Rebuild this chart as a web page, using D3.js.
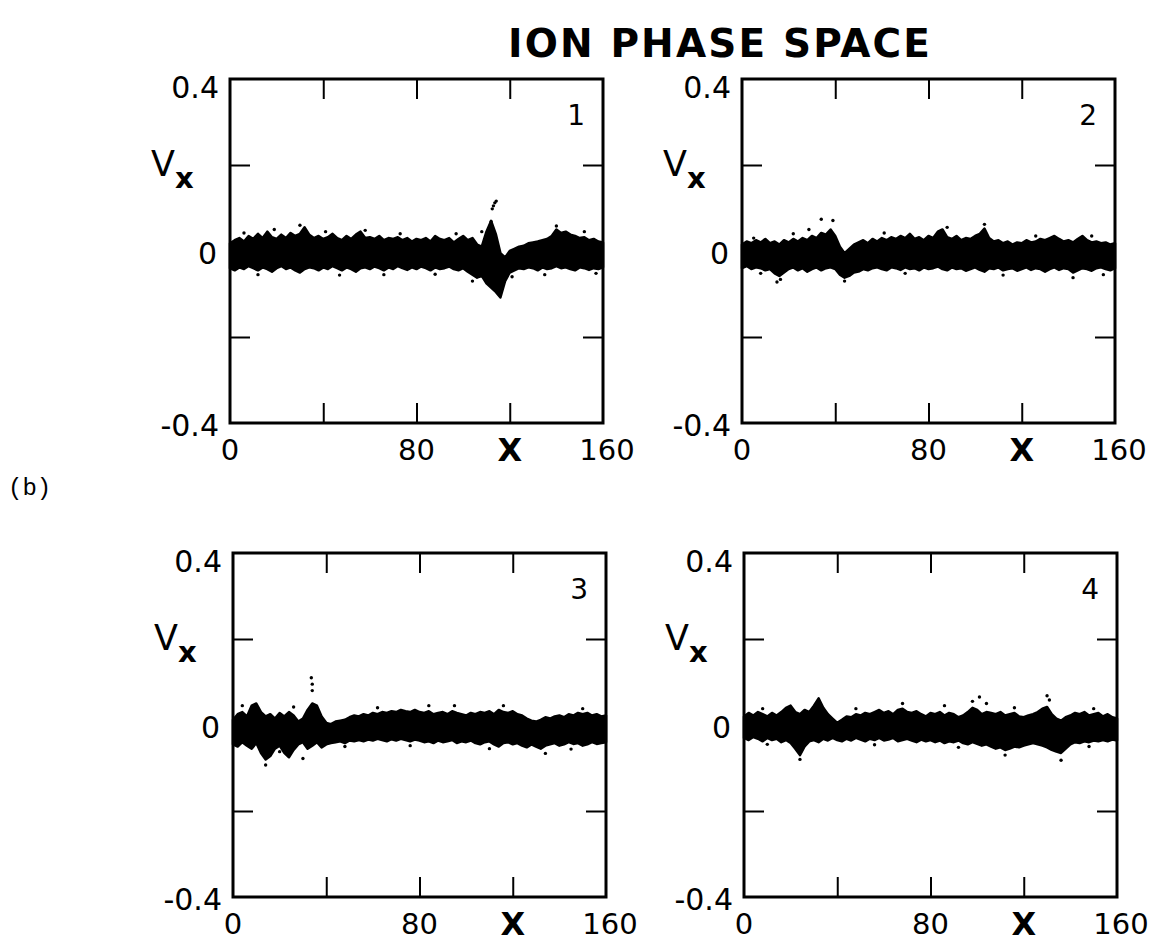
<!DOCTYPE html>
<html>
<head>
<meta charset="utf-8">
<script src="https://cdn.jsdelivr.net/npm/d3@7"></script>
<style>
  body { margin: 0; background: #fff; }
  svg { display: block; }
</style>
</head>
<body>
<script>
// ion phase space, 4 snapshots, band edges (units of 0.001 in Vx)
const xTicks = [0, 40, 80, 120, 160];
const vTicks = [-0.2, 0, 0.2];
const xLabels = [[0, "0"], [80, "80"], [160, "160"]];
const vLabels = [[0.4, "0.4"], [0, "0"], [-0.4, "-0.4"]];
const xGrid = d3.range(0, 161, 2);

const upper1 = [18,25,30,22,35,28,40,30,45,32,28,38,30,42,35,40,55,38,30,35,28,32,40,30,25,35,28,38,45,30,32,28,35,25,30,28,32,25,30,22,28,25,30,22,35,28,25,30,20,28,35,25,30,15,10,45,70,40,-5,-15,0,5,10,12,18,20,22,25,28,35,50,42,45,38,35,30,32,25,28,22,20];
const lower1 = [-40,-45,-38,-42,-35,-40,-45,-38,-42,-48,-40,-35,-42,-38,-45,-50,-42,-38,-40,-45,-38,-42,-35,-40,-45,-38,-42,-48,-40,-38,-42,-36,-40,-45,-38,-42,-35,-40,-44,-38,-42,-36,-40,-45,-38,-42,-40,-36,-42,-45,-40,-48,-55,-62,-58,-75,-85,-95,-108,-70,-50,-45,-40,-42,-38,-40,-45,-38,-42,-40,-35,-40,-38,-42,-45,-38,-40,-44,-40,-42,-38];
const upper2 = [15,22,18,25,20,28,18,22,15,25,20,28,22,30,25,35,30,42,38,50,35,10,-5,5,15,20,25,18,28,22,30,25,32,28,35,30,40,28,32,25,35,30,45,50,32,28,35,25,30,28,35,40,52,30,22,25,18,22,15,20,18,25,20,22,28,25,30,35,28,22,25,20,28,35,25,20,22,18,20,15,18];
const lower2 = [-40,-35,-42,-38,-40,-45,-42,-52,-58,-50,-42,-38,-45,-40,-48,-42,-38,-45,-40,-38,-42,-55,-62,-58,-50,-48,-42,-45,-40,-38,-42,-45,-38,-40,-44,-38,-42,-40,-45,-38,-42,-40,-36,-42,-45,-38,-42,-40,-46,-42,-38,-44,-48,-40,-42,-38,-45,-42,-40,-46,-42,-38,-44,-40,-42,-48,-42,-38,-44,-40,-42,-50,-45,-40,-42,-46,-40,-38,-42,-45,-40];
const upper3 = [12,25,30,20,45,50,30,20,25,15,28,20,30,22,8,15,35,50,45,20,5,2,8,10,12,18,22,20,25,22,28,25,30,28,32,30,35,32,30,35,30,28,32,25,28,30,25,32,28,25,22,28,25,30,28,32,25,35,30,28,32,25,22,15,10,8,12,18,15,20,22,18,25,22,28,25,28,22,25,20,22];
const lower3 = [-45,-50,-40,-48,-55,-42,-65,-80,-72,-55,-48,-65,-75,-58,-45,-40,-55,-48,-40,-52,-45,-42,-40,-38,-42,-36,-38,-35,-38,-34,-36,-32,-35,-38,-33,-36,-32,-35,-38,-34,-36,-40,-38,-42,-36,-40,-38,-35,-42,-38,-40,-36,-42,-45,-40,-38,-45,-50,-42,-40,-45,-42,-48,-52,-45,-50,-55,-48,-45,-42,-48,-45,-40,-44,-42,-48,-45,-40,-44,-42,-40];
const upper4 = [20,28,22,30,25,20,28,22,30,40,45,30,25,35,30,45,62,40,25,15,5,12,20,18,25,22,28,25,30,35,28,32,25,35,38,30,28,32,25,20,28,25,30,22,28,25,18,22,30,40,35,25,30,28,25,30,22,25,28,20,18,22,25,30,38,42,25,15,10,18,22,28,25,30,22,25,28,20,25,18,15];
const lower4 = [-30,-35,-28,-32,-38,-30,-35,-32,-40,-35,-42,-55,-70,-50,-38,-35,-40,-32,-36,-30,-35,-38,-32,-36,-30,-34,-38,-32,-35,-30,-36,-34,-30,-38,-35,-32,-36,-40,-34,-38,-35,-40,-36,-42,-38,-40,-36,-42,-45,-40,-44,-48,-45,-50,-55,-52,-58,-55,-50,-52,-48,-45,-42,-45,-48,-52,-58,-62,-65,-55,-45,-40,-42,-38,-40,-36,-38,-35,-38,-34,-36];

// stray particles [x, Vx]
const dots1 = [[112, 0.068], [112.5, 0.098], [113, 0.105], [113.6, 0.112], [114.2, 0.116], [108, 0.045], [104, -0.07], [121, -0.06], [30, 0.06],
    [6, 0.042], [19, 0.05], [41, 0.045], [58, 0.048], [73, 0.04], [97, 0.04], [140, 0.058], [152, 0.045], [12, -0.055], [47, -0.056], [66, -0.055], [88, -0.054], [135, -0.055], [157, -0.052]];
const dots2 = [[34, 0.074], [39, 0.071], [28.7, 0.05], [15, -0.072], [16.5, -0.066], [44, -0.07], [88, 0.055],
    [5, 0.03], [22, 0.04], [61, 0.042], [104, 0.062], [126, 0.035], [150, 0.035], [8, -0.052], [70, -0.052], [112, -0.056], [142, -0.062], [155, -0.055]];
const dots3 = [[34, 0.08], [34, 0.095], [33.6, 0.11], [14, -0.093], [20, -0.062], [30, -0.078], [134, -0.066], [95, 0.045],
    [4, 0.045], [26, 0.042], [62, 0.04], [84, 0.045], [116, 0.045], [150, 0.038], [48, -0.05], [76, -0.048], [110, -0.055], [145, -0.056]];
const dots4 = [[24, -0.08], [98, 0.055], [101, 0.065], [104, 0.05], [130, 0.068], [131, 0.058], [136, -0.082], [86, 0.045],
    [8, 0.038], [48, 0.038], [68, 0.05], [116, 0.04], [150, 0.038], [10, -0.045], [56, -0.046], [92, -0.052], [112, -0.07], [148, -0.05]];

const panelNames = ["1", "2", "3", "4"];
const uppers = [upper1, upper2, upper3, upper4];
const lowers = [lower1, lower2, lower3, lower4];
const dotSets = [dots1, dots2, dots3, dots4];

const width = 1160, height = 944;
const boxes = [
    {x: 230, y: 79},
    {x: 742, y: 79},
    {x: 233, y: 553},
    {x: 744, y: 553}
];
const pw = 373, ph = 344;
const font = "'DejaVu Sans', 'Liberation Sans', sans-serif";

let svg = d3.select("body").append("svg")
    .attr("width", width)
    .attr("height", height);

svg.append("text")
    .attr("x", 508).attr("y", 57)
    .attr("textLength", 422).attr("lengthAdjust", "spacing")
    .style("font-family", font).style("font-size", "39px").style("font-weight", "bold")
    .text("ION PHASE SPACE");

svg.append("text")
    .attr("x", 8).attr("y", 495)
    .style("font-family", "'Liberation Mono', 'Courier New', monospace").style("font-size", "24px")
    .text("(b)");

panelNames.forEach((name, i) => {
    let box = boxes[i];
    let g = svg.append("g").attr("transform", `translate(${box.x},${box.y})`);

    let x = d3.scaleLinear().domain([0, 160]).range([0, pw]);
    let y = d3.scaleLinear().domain([-0.4, 0.4]).range([ph, 0]);

    let rows = xGrid.map((xv, k) => ({x: xv, hi: uppers[i][k] / 1000, lo: lowers[i][k] / 1000}));

    let area = d3.area()
        .x(d => x(d.x))
        .y0(d => y(d.lo))
        .y1(d => y(d.hi));

    g.append("path")
        .datum(rows)
        .attr("d", area)
        .attr("fill", "#000")
        .attr("stroke", "#000")
        .attr("stroke-width", 2.5)
        .attr("stroke-linejoin", "round");

    g.selectAll("circle.dot")
        .data(dotSets[i])
        .join("circle")
        .attr("class", "dot")
        .attr("cx", d => x(d[0]))
        .attr("cy", d => y(d[1]))
        .attr("r", 1.7)
        .attr("fill", "#000");

    // inward ticks on all four sides
    let tickLen = 20;
    let inner = xTicks.slice(1, -1);
    g.append("g").attr("transform", `translate(0,${ph})`)
        .call(d3.axisBottom(x).tickValues(inner).tickSize(-tickLen).tickFormat(""));
    g.append("g")
        .call(d3.axisTop(x).tickValues(inner).tickSize(-tickLen).tickFormat(""));
    g.append("g")
        .call(d3.axisLeft(y).tickValues(vTicks).tickSize(-tickLen).tickFormat(""));
    g.append("g").attr("transform", `translate(${pw},0)`)
        .call(d3.axisRight(y).tickValues(vTicks).tickSize(-tickLen).tickFormat(""));
    g.selectAll(".domain").remove();
    g.selectAll(".tick line").attr("stroke", "#000").attr("stroke-width", 2);

    g.append("rect")
        .attr("width", pw).attr("height", ph)
        .attr("fill", "none").attr("stroke", "#000").attr("stroke-width", 3);

    g.selectAll("text.vl")
        .data(vLabels)
        .join("text")
        .attr("class", "vl")
        .attr("x", d => d[0] === 0 ? -13 : -11)
        .attr("y", d => y(d[0]) + (d[0] > 0 ? 8 : 2))
        .attr("dy", "0.36em")
        .attr("text-anchor", "end")
        .style("font-family", font).style("font-size", "30px")
        .text(d => d[1]);

    g.selectAll("text.xl")
        .data(xLabels)
        .join("text")
        .attr("class", "xl")
        .attr("x", d => x(d[0]) + (d[0] === 160 ? 4 : 0))
        .attr("y", ph + 37)
        .attr("text-anchor", "middle")
        .style("font-family", font).style("font-size", "29px")
        .text(d => d[1]);

    g.append("text")
        .attr("x", x(120))
        .attr("y", ph + 38)
        .attr("text-anchor", "middle")
        .style("font-family", font).style("font-size", "32px").style("font-weight", "bold")
        .text("X");

    let vx = g.append("text")
        .attr("x", -79)
        .attr("y", y(0.2) + 11)
        .style("font-family", font).style("font-size", "35px");
    vx.append("tspan").text("V");
    vx.append("tspan").attr("dy", 12).style("font-size", "29px").style("font-weight", "bold").text("x");

    g.append("text")
        .attr("x", pw - 18)
        .attr("y", 46)
        .attr("text-anchor", "end")
        .style("font-family", font).style("font-size", "28px")
        .text(name);
});
</script>
</body>
</html>
